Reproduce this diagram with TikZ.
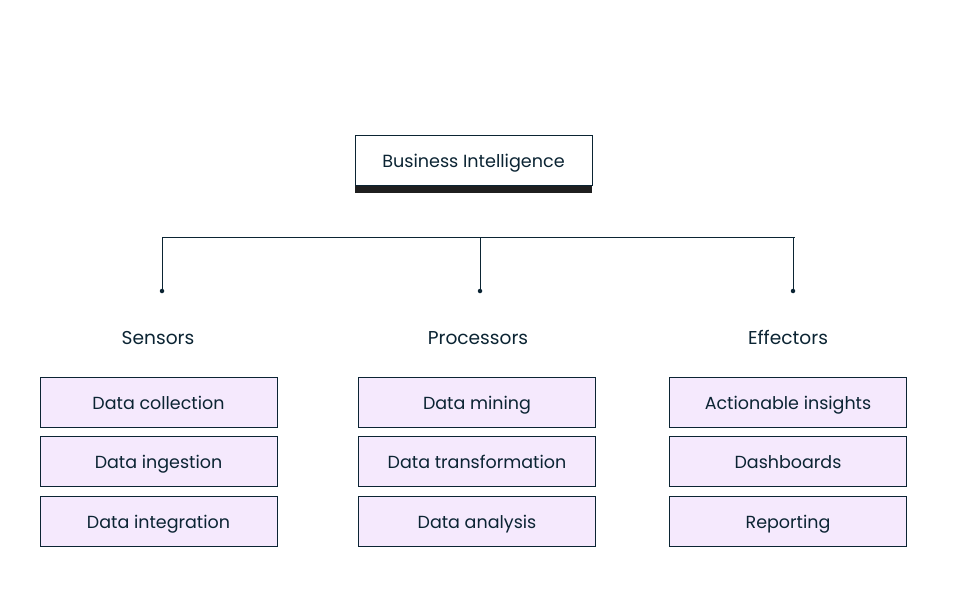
\documentclass[tikz,border=0pt]{standalone}
\usepackage{fontspec}
\setmainfont{Poppins}
\usepackage{tikz}
\usetikzlibrary{calc}
\definecolor{inkblue}{HTML}{0B2433}
\definecolor{lavender}{HTML}{F5E9FD}
\tikzset{
	topstyle/.style={rectangle,draw=inkblue,fill=white,line width=0.8pt,minimum width=237pt,minimum height=50pt,text=inkblue,text height=16pt,text depth=1pt,font=\fontsize{17.6}{20}\selectfont},
	itemstyle/.style={rectangle,draw=inkblue,fill=lavender,line width=0.8pt,minimum width=237pt,minimum height=50pt,text=inkblue,text height=16pt,text depth=1pt,font=\fontsize{17.5}{20}\selectfont},
	headstyle/.style={text=inkblue,text height=16pt,text depth=1pt,font=\fontsize{18.6}{21}\selectfont},
	dotstyle/.style={circle,fill=inkblue,inner sep=0pt,minimum size=4.5pt},
	linkstyle/.style={draw=inkblue,line width=0.9pt}
}

\begin{document}
\begin{tikzpicture}[x=1pt,y=-1pt]
	\useasboundingbox (0,0) rectangle (959,597);
	% top box with its dark bar
	\fill[black!88] (355,184) rectangle (592,193);
	\node[topstyle] (bi) at (473.5,160) {Business Intelligence};
	% branch
	\coordinate (bl) at (162,237);
	\coordinate (bm) at (480,237);
	\coordinate (br) at (793,237);
	\coordinate (brr) at (795,237);
	\node[dotstyle] (d1) at (162,291) {};
	\node[dotstyle] (d2) at (480,291) {};
	\node[dotstyle] (d3) at (793,291) {};
	\draw[linkstyle] (bl)--(brr);
	\draw[linkstyle] (bl)--(d1);
	\draw[linkstyle] (bm)--(d2);
	\draw[linkstyle] (br)--(d3);
	% headers
	\node[headstyle] (sens) at (158,337) {Sensors};
	\node[headstyle] (proc) at (478,337) {Processors};
	\node[headstyle] (effe) at (788,337) {Effectors};
	% items
	\node[itemstyle] (s1) at (158.5,402) {Data collection};
	\node[itemstyle] (s2) at (158.5,461) {Data ingestion};
	\node[itemstyle] (s3) at (158.5,521) {Data integration};
	\node[itemstyle] (p1) at (477,402) {Data mining};
	\node[itemstyle] (p2) at (477,461) {Data transformation};
	\node[itemstyle] (p3) at (477,521) {Data analysis};
	\node[itemstyle] (e1) at (788,402) {Actionable insights};
	\node[itemstyle] (e2) at (788,461) {Dashboards};
	\node[itemstyle] (e3) at (788,521) {Reporting};
\end{tikzpicture}
\end{document}
